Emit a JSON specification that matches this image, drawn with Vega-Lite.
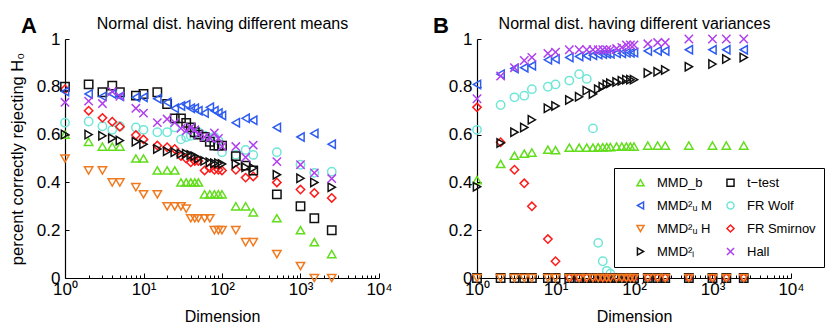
{
"$schema": "https://vega.github.io/schema/vega-lite/v6.json",
"padding": {"left": 9, "top": 15, "right": 5, "bottom": 5},
"background": "white",
"config": {
  "font": "Liberation Sans",
  "view": {"stroke": null},
  "axis": {"domainColor": "#000", "domainWidth": 1.2, "tickColor": "#000", "tickWidth": 1, "labelColor": "#000", "titleColor": "#000", "labelFontSize": 17, "titleFontSize": 16, "titleFontWeight": "normal", "grid": false, "labelFont": "Liberation Sans", "titleFont": "Liberation Sans"}
},
"datasets": {
"A": [
{"m":"FR Wolf","d":1,"p":0.65},{"m":"FR Wolf","d":2,"p":0.655},{"m":"FR Wolf","d":3,"p":0.635},{"m":"FR Wolf","d":4,"p":0.62},{"m":"FR Wolf","d":5,"p":0.635},{"m":"FR Wolf","d":8,"p":0.63},{"m":"FR Wolf","d":10,"p":0.62},{"m":"FR Wolf","d":15,"p":0.61},{"m":"FR Wolf","d":20,"p":0.61},{"m":"FR Wolf","d":25,"p":0.63},{"m":"FR Wolf","d":30,"p":0.58},{"m":"FR Wolf","d":35,"p":0.59},{"m":"FR Wolf","d":40,"p":0.595},{"m":"FR Wolf","d":45,"p":0.605},{"m":"FR Wolf","d":50,"p":0.61},{"m":"FR Wolf","d":60,"p":0.595},{"m":"FR Wolf","d":70,"p":0.586},{"m":"FR Wolf","d":80,"p":0.59},{"m":"FR Wolf","d":90,"p":0.575},{"m":"FR Wolf","d":100,"p":0.526},{"m":"FR Wolf","d":150,"p":0.516},{"m":"FR Wolf","d":200,"p":0.536},{"m":"FR Wolf","d":250,"p":0.515},{"m":"FR Wolf","d":500,"p":0.526},{"m":"FR Wolf","d":1000,"p":0.474},{"m":"FR Wolf","d":1500,"p":0.44},{"m":"FR Wolf","d":2500,"p":0.445},
{"m":"FR Smirnov","d":1,"p":0.79},{"m":"FR Smirnov","d":2,"p":0.7},{"m":"FR Smirnov","d":3,"p":0.67},{"m":"FR Smirnov","d":4,"p":0.654},{"m":"FR Smirnov","d":5,"p":0.633},{"m":"FR Smirnov","d":8,"p":0.598},{"m":"FR Smirnov","d":10,"p":0.58},{"m":"FR Smirnov","d":15,"p":0.554},{"m":"FR Smirnov","d":20,"p":0.547},{"m":"FR Smirnov","d":25,"p":0.54},{"m":"FR Smirnov","d":30,"p":0.51},{"m":"FR Smirnov","d":35,"p":0.5},{"m":"FR Smirnov","d":40,"p":0.484},{"m":"FR Smirnov","d":45,"p":0.49},{"m":"FR Smirnov","d":50,"p":0.49},{"m":"FR Smirnov","d":60,"p":0.45},{"m":"FR Smirnov","d":70,"p":0.46},{"m":"FR Smirnov","d":80,"p":0.453},{"m":"FR Smirnov","d":90,"p":0.453},{"m":"FR Smirnov","d":100,"p":0.45},{"m":"FR Smirnov","d":150,"p":0.453},{"m":"FR Smirnov","d":200,"p":0.42},{"m":"FR Smirnov","d":250,"p":0.425},{"m":"FR Smirnov","d":500,"p":0.4},{"m":"FR Smirnov","d":1000,"p":0.37},{"m":"FR Smirnov","d":1500,"p":0.356},{"m":"FR Smirnov","d":2500,"p":0.335},
{"m":"t−test","d":1,"p":0.8},{"m":"t−test","d":2,"p":0.81},{"m":"t−test","d":3,"p":0.777},{"m":"t−test","d":4,"p":0.805},{"m":"t−test","d":5,"p":0.777},{"m":"t−test","d":8,"p":0.763},{"m":"t−test","d":10,"p":0.77},{"m":"t−test","d":15,"p":0.777},{"m":"t−test","d":20,"p":0.728},{"m":"t−test","d":25,"p":0.668},{"m":"t−test","d":30,"p":0.668},{"m":"t−test","d":35,"p":0.649},{"m":"t−test","d":40,"p":0.63},{"m":"t−test","d":45,"p":0.61},{"m":"t−test","d":50,"p":0.6},{"m":"t−test","d":60,"p":0.59},{"m":"t−test","d":70,"p":0.57},{"m":"t−test","d":80,"p":0.554},{"m":"t−test","d":90,"p":0.554},{"m":"t−test","d":100,"p":0.554},{"m":"t−test","d":150,"p":0.51},{"m":"t−test","d":200,"p":0.47},{"m":"t−test","d":250,"p":0.45},{"m":"t−test","d":500,"p":0.35},{"m":"t−test","d":1000,"p":0.3},{"m":"t−test","d":1500,"p":0.25},{"m":"t−test","d":2500,"p":0.2},
{"m":"MMD_b","d":1,"p":0.6},{"m":"MMD_b","d":2,"p":0.57},{"m":"MMD_b","d":3,"p":0.55},{"m":"MMD_b","d":4,"p":0.55},{"m":"MMD_b","d":5,"p":0.55},{"m":"MMD_b","d":8,"p":0.5},{"m":"MMD_b","d":10,"p":0.5},{"m":"MMD_b","d":15,"p":0.45},{"m":"MMD_b","d":20,"p":0.45},{"m":"MMD_b","d":25,"p":0.45},{"m":"MMD_b","d":30,"p":0.4},{"m":"MMD_b","d":35,"p":0.4},{"m":"MMD_b","d":40,"p":0.4},{"m":"MMD_b","d":45,"p":0.4},{"m":"MMD_b","d":50,"p":0.4},{"m":"MMD_b","d":60,"p":0.35},{"m":"MMD_b","d":70,"p":0.35},{"m":"MMD_b","d":80,"p":0.35},{"m":"MMD_b","d":90,"p":0.35},{"m":"MMD_b","d":100,"p":0.35},{"m":"MMD_b","d":150,"p":0.3},{"m":"MMD_b","d":200,"p":0.3},{"m":"MMD_b","d":250,"p":0.275},{"m":"MMD_b","d":500,"p":0.25},{"m":"MMD_b","d":1000,"p":0.2},{"m":"MMD_b","d":1500,"p":0.15},{"m":"MMD_b","d":2500,"p":0.1},
{"m":"MMD²ᵤ M","d":1,"p":0.78},{"m":"MMD²ᵤ M","d":2,"p":0.77},{"m":"MMD²ᵤ M","d":3,"p":0.76},{"m":"MMD²ᵤ M","d":4,"p":0.77},{"m":"MMD²ᵤ M","d":5,"p":0.76},{"m":"MMD²ᵤ M","d":8,"p":0.756},{"m":"MMD²ᵤ M","d":10,"p":0.756},{"m":"MMD²ᵤ M","d":15,"p":0.75},{"m":"MMD²ᵤ M","d":20,"p":0.735},{"m":"MMD²ᵤ M","d":25,"p":0.71},{"m":"MMD²ᵤ M","d":30,"p":0.72},{"m":"MMD²ᵤ M","d":35,"p":0.725},{"m":"MMD²ᵤ M","d":40,"p":0.71},{"m":"MMD²ᵤ M","d":45,"p":0.71},{"m":"MMD²ᵤ M","d":50,"p":0.7},{"m":"MMD²ᵤ M","d":60,"p":0.69},{"m":"MMD²ᵤ M","d":70,"p":0.714},{"m":"MMD²ᵤ M","d":80,"p":0.7},{"m":"MMD²ᵤ M","d":90,"p":0.69},{"m":"MMD²ᵤ M","d":100,"p":0.68},{"m":"MMD²ᵤ M","d":150,"p":0.65},{"m":"MMD²ᵤ M","d":200,"p":0.668},{"m":"MMD²ᵤ M","d":250,"p":0.66},{"m":"MMD²ᵤ M","d":500,"p":0.63},{"m":"MMD²ᵤ M","d":1000,"p":0.59},{"m":"MMD²ᵤ M","d":1500,"p":0.605},{"m":"MMD²ᵤ M","d":2500,"p":0.56},
{"m":"MMD²ₗ","d":1,"p":0.6},{"m":"MMD²ₗ","d":2,"p":0.6},{"m":"MMD²ₗ","d":3,"p":0.595},{"m":"MMD²ₗ","d":4,"p":0.585},{"m":"MMD²ₗ","d":5,"p":0.575},{"m":"MMD²ₗ","d":8,"p":0.57},{"m":"MMD²ₗ","d":10,"p":0.56},{"m":"MMD²ₗ","d":15,"p":0.54},{"m":"MMD²ₗ","d":20,"p":0.53},{"m":"MMD²ₗ","d":25,"p":0.526},{"m":"MMD²ₗ","d":30,"p":0.52},{"m":"MMD²ₗ","d":35,"p":0.52},{"m":"MMD²ₗ","d":40,"p":0.515},{"m":"MMD²ₗ","d":45,"p":0.51},{"m":"MMD²ₗ","d":50,"p":0.5},{"m":"MMD²ₗ","d":60,"p":0.49},{"m":"MMD²ₗ","d":70,"p":0.484},{"m":"MMD²ₗ","d":80,"p":0.48},{"m":"MMD²ₗ","d":90,"p":0.48},{"m":"MMD²ₗ","d":100,"p":0.477},{"m":"MMD²ₗ","d":150,"p":0.477},{"m":"MMD²ₗ","d":200,"p":0.463},{"m":"MMD²ₗ","d":250,"p":0.46},{"m":"MMD²ₗ","d":500,"p":0.432},{"m":"MMD²ₗ","d":1000,"p":0.417},{"m":"MMD²ₗ","d":1500,"p":0.4},{"m":"MMD²ₗ","d":2500,"p":0.38},
{"m":"Hall","d":1,"p":0.735},{"m":"Hall","d":2,"p":0.74},{"m":"Hall","d":3,"p":0.73},{"m":"Hall","d":4,"p":0.78},{"m":"Hall","d":5,"p":0.76},{"m":"Hall","d":8,"p":0.71},{"m":"Hall","d":10,"p":0.69},{"m":"Hall","d":15,"p":0.65},{"m":"Hall","d":20,"p":0.665},{"m":"Hall","d":25,"p":0.65},{"m":"Hall","d":30,"p":0.626},{"m":"Hall","d":35,"p":0.616},{"m":"Hall","d":40,"p":0.63},{"m":"Hall","d":45,"p":0.62},{"m":"Hall","d":50,"p":0.6},{"m":"Hall","d":60,"p":0.59},{"m":"Hall","d":70,"p":0.586},{"m":"Hall","d":80,"p":0.607},{"m":"Hall","d":90,"p":0.584},{"m":"Hall","d":100,"p":0.55},{"m":"Hall","d":150,"p":0.55},{"m":"Hall","d":200,"p":0.505},{"m":"Hall","d":250,"p":0.556},{"m":"Hall","d":500,"p":0.487},{"m":"Hall","d":1000,"p":0.474},{"m":"Hall","d":1500,"p":0.44},{"m":"Hall","d":2500,"p":0.416},
{"m":"MMD²ᵤ H","d":1,"p":0.5},{"m":"MMD²ᵤ H","d":2,"p":0.45},{"m":"MMD²ᵤ H","d":3,"p":0.45},{"m":"MMD²ᵤ H","d":4,"p":0.4},{"m":"MMD²ᵤ H","d":5,"p":0.4},{"m":"MMD²ᵤ H","d":8,"p":0.38},{"m":"MMD²ᵤ H","d":10,"p":0.35},{"m":"MMD²ᵤ H","d":15,"p":0.35},{"m":"MMD²ᵤ H","d":20,"p":0.3},{"m":"MMD²ᵤ H","d":25,"p":0.3},{"m":"MMD²ᵤ H","d":30,"p":0.3},{"m":"MMD²ᵤ H","d":35,"p":0.29},{"m":"MMD²ᵤ H","d":40,"p":0.25},{"m":"MMD²ᵤ H","d":45,"p":0.25},{"m":"MMD²ᵤ H","d":50,"p":0.25},{"m":"MMD²ᵤ H","d":60,"p":0.25},{"m":"MMD²ᵤ H","d":70,"p":0.25},{"m":"MMD²ᵤ H","d":80,"p":0.2},{"m":"MMD²ᵤ H","d":90,"p":0.2},{"m":"MMD²ᵤ H","d":100,"p":0.2},{"m":"MMD²ᵤ H","d":150,"p":0.2},{"m":"MMD²ᵤ H","d":200,"p":0.15},{"m":"MMD²ᵤ H","d":250,"p":0.15},{"m":"MMD²ᵤ H","d":500,"p":0.1},{"m":"MMD²ᵤ H","d":1000,"p":0.05},{"m":"MMD²ᵤ H","d":1500,"p":0},{"m":"MMD²ᵤ H","d":2500,"p":0}
],
"B": [
{"m":"FR Wolf","d":1,"p":0.62},{"m":"FR Wolf","d":2,"p":0.724},{"m":"FR Wolf","d":3,"p":0.756},{"m":"FR Wolf","d":4,"p":0.763},{"m":"FR Wolf","d":5,"p":0.79},{"m":"FR Wolf","d":8,"p":0.8},{"m":"FR Wolf","d":10,"p":0.81},{"m":"FR Wolf","d":15,"p":0.826},{"m":"FR Wolf","d":20,"p":0.853},{"m":"FR Wolf","d":25,"p":0.833},{"m":"FR Wolf","d":30,"p":0.626},{"m":"FR Wolf","d":35,"p":0.147},{"m":"FR Wolf","d":40,"p":0.07},{"m":"FR Wolf","d":45,"p":0.03},{"m":"FR Wolf","d":50,"p":0.018},{"m":"FR Wolf","d":60,"p":0},{"m":"FR Wolf","d":70,"p":0},{"m":"FR Wolf","d":80,"p":0},{"m":"FR Wolf","d":90,"p":0},{"m":"FR Wolf","d":100,"p":0},{"m":"FR Wolf","d":150,"p":0},{"m":"FR Wolf","d":200,"p":0},{"m":"FR Wolf","d":250,"p":0},{"m":"FR Wolf","d":500,"p":0},{"m":"FR Wolf","d":1000,"p":0},{"m":"FR Wolf","d":1500,"p":0},{"m":"FR Wolf","d":2500,"p":0},
{"m":"FR Smirnov","d":1,"p":0.714},{"m":"FR Smirnov","d":2,"p":0.568},{"m":"FR Smirnov","d":3,"p":0.453},{"m":"FR Smirnov","d":4,"p":0.396},{"m":"FR Smirnov","d":5,"p":0.3},{"m":"FR Smirnov","d":8,"p":0.163},{"m":"FR Smirnov","d":10,"p":0.07},{"m":"FR Smirnov","d":15,"p":0},{"m":"FR Smirnov","d":20,"p":0},{"m":"FR Smirnov","d":25,"p":0},{"m":"FR Smirnov","d":30,"p":0},{"m":"FR Smirnov","d":35,"p":0},{"m":"FR Smirnov","d":40,"p":0},{"m":"FR Smirnov","d":45,"p":0},{"m":"FR Smirnov","d":50,"p":0},{"m":"FR Smirnov","d":60,"p":0},{"m":"FR Smirnov","d":70,"p":0},{"m":"FR Smirnov","d":80,"p":0},{"m":"FR Smirnov","d":90,"p":0},{"m":"FR Smirnov","d":100,"p":0},{"m":"FR Smirnov","d":150,"p":0},{"m":"FR Smirnov","d":200,"p":0},{"m":"FR Smirnov","d":250,"p":0},{"m":"FR Smirnov","d":500,"p":0},{"m":"FR Smirnov","d":1000,"p":0},{"m":"FR Smirnov","d":1500,"p":0},{"m":"FR Smirnov","d":2500,"p":0},
{"m":"t−test","d":1,"p":0},{"m":"t−test","d":2,"p":0},{"m":"t−test","d":3,"p":0},{"m":"t−test","d":4,"p":0},{"m":"t−test","d":5,"p":0},{"m":"t−test","d":8,"p":0},{"m":"t−test","d":10,"p":0},{"m":"t−test","d":15,"p":0},{"m":"t−test","d":20,"p":0},{"m":"t−test","d":25,"p":0},{"m":"t−test","d":30,"p":0},{"m":"t−test","d":35,"p":0},{"m":"t−test","d":40,"p":0},{"m":"t−test","d":45,"p":0},{"m":"t−test","d":50,"p":0},{"m":"t−test","d":60,"p":0},{"m":"t−test","d":70,"p":0},{"m":"t−test","d":80,"p":0},{"m":"t−test","d":90,"p":0},{"m":"t−test","d":100,"p":0},{"m":"t−test","d":150,"p":0},{"m":"t−test","d":200,"p":0},{"m":"t−test","d":250,"p":0},{"m":"t−test","d":500,"p":0},{"m":"t−test","d":1000,"p":0},{"m":"t−test","d":1500,"p":0},{"m":"t−test","d":2500,"p":0},
{"m":"MMD_b","d":1,"p":0.41},{"m":"MMD_b","d":2,"p":0.477},{"m":"MMD_b","d":3,"p":0.512},{"m":"MMD_b","d":4,"p":0.52},{"m":"MMD_b","d":5,"p":0.525},{"m":"MMD_b","d":8,"p":0.537},{"m":"MMD_b","d":10,"p":0.535},{"m":"MMD_b","d":15,"p":0.545},{"m":"MMD_b","d":20,"p":0.545},{"m":"MMD_b","d":25,"p":0.545},{"m":"MMD_b","d":30,"p":0.545},{"m":"MMD_b","d":35,"p":0.547},{"m":"MMD_b","d":40,"p":0.547},{"m":"MMD_b","d":45,"p":0.548},{"m":"MMD_b","d":50,"p":0.548},{"m":"MMD_b","d":60,"p":0.55},{"m":"MMD_b","d":70,"p":0.55},{"m":"MMD_b","d":80,"p":0.55},{"m":"MMD_b","d":90,"p":0.55},{"m":"MMD_b","d":100,"p":0.55},{"m":"MMD_b","d":150,"p":0.554},{"m":"MMD_b","d":200,"p":0.554},{"m":"MMD_b","d":250,"p":0.554},{"m":"MMD_b","d":500,"p":0.554},{"m":"MMD_b","d":1000,"p":0.554},{"m":"MMD_b","d":1500,"p":0.554},{"m":"MMD_b","d":2500,"p":0.554},
{"m":"MMD²ᵤ M","d":1,"p":0.81},{"m":"MMD²ᵤ M","d":2,"p":0.853},{"m":"MMD²ᵤ M","d":3,"p":0.877},{"m":"MMD²ᵤ M","d":4,"p":0.88},{"m":"MMD²ᵤ M","d":5,"p":0.888},{"m":"MMD²ᵤ M","d":8,"p":0.913},{"m":"MMD²ᵤ M","d":10,"p":0.916},{"m":"MMD²ᵤ M","d":15,"p":0.923},{"m":"MMD²ᵤ M","d":20,"p":0.927},{"m":"MMD²ᵤ M","d":25,"p":0.93},{"m":"MMD²ᵤ M","d":30,"p":0.932},{"m":"MMD²ᵤ M","d":35,"p":0.935},{"m":"MMD²ᵤ M","d":40,"p":0.937},{"m":"MMD²ᵤ M","d":45,"p":0.938},{"m":"MMD²ᵤ M","d":50,"p":0.938},{"m":"MMD²ᵤ M","d":60,"p":0.94},{"m":"MMD²ᵤ M","d":70,"p":0.94},{"m":"MMD²ᵤ M","d":80,"p":0.942},{"m":"MMD²ᵤ M","d":90,"p":0.942},{"m":"MMD²ᵤ M","d":100,"p":0.943},{"m":"MMD²ᵤ M","d":150,"p":0.95},{"m":"MMD²ᵤ M","d":200,"p":0.95},{"m":"MMD²ᵤ M","d":250,"p":0.95},{"m":"MMD²ᵤ M","d":500,"p":0.955},{"m":"MMD²ᵤ M","d":1000,"p":0.955},{"m":"MMD²ᵤ M","d":1500,"p":0.955},{"m":"MMD²ᵤ M","d":2500,"p":0.955},
{"m":"MMD²ₗ","d":1,"p":0.382},{"m":"MMD²ₗ","d":2,"p":0.565},{"m":"MMD²ₗ","d":3,"p":0.61},{"m":"MMD²ₗ","d":4,"p":0.63},{"m":"MMD²ₗ","d":5,"p":0.662},{"m":"MMD²ₗ","d":8,"p":0.71},{"m":"MMD²ₗ","d":10,"p":0.72},{"m":"MMD²ₗ","d":15,"p":0.745},{"m":"MMD²ₗ","d":20,"p":0.758},{"m":"MMD²ₗ","d":25,"p":0.784},{"m":"MMD²ₗ","d":30,"p":0.77},{"m":"MMD²ₗ","d":35,"p":0.79},{"m":"MMD²ₗ","d":40,"p":0.8},{"m":"MMD²ₗ","d":45,"p":0.81},{"m":"MMD²ₗ","d":50,"p":0.815},{"m":"MMD²ₗ","d":60,"p":0.82},{"m":"MMD²ₗ","d":70,"p":0.825},{"m":"MMD²ₗ","d":80,"p":0.83},{"m":"MMD²ₗ","d":90,"p":0.83},{"m":"MMD²ₗ","d":100,"p":0.83},{"m":"MMD²ₗ","d":150,"p":0.858},{"m":"MMD²ₗ","d":200,"p":0.863},{"m":"MMD²ₗ","d":250,"p":0.87},{"m":"MMD²ₗ","d":500,"p":0.884},{"m":"MMD²ₗ","d":1000,"p":0.895},{"m":"MMD²ₗ","d":1500,"p":0.916},{"m":"MMD²ₗ","d":2500,"p":0.923},
{"m":"Hall","d":1,"p":0.75},{"m":"Hall","d":2,"p":0.845},{"m":"Hall","d":3,"p":0.88},{"m":"Hall","d":4,"p":0.91},{"m":"Hall","d":5,"p":0.923},{"m":"Hall","d":8,"p":0.94},{"m":"Hall","d":10,"p":0.945},{"m":"Hall","d":15,"p":0.955},{"m":"Hall","d":20,"p":0.955},{"m":"Hall","d":25,"p":0.955},{"m":"Hall","d":30,"p":0.955},{"m":"Hall","d":35,"p":0.955},{"m":"Hall","d":40,"p":0.955},{"m":"Hall","d":45,"p":0.955},{"m":"Hall","d":50,"p":0.955},{"m":"Hall","d":60,"p":0.96},{"m":"Hall","d":70,"p":0.965},{"m":"Hall","d":80,"p":0.975},{"m":"Hall","d":90,"p":0.975},{"m":"Hall","d":100,"p":0.975},{"m":"Hall","d":150,"p":0.98},{"m":"Hall","d":200,"p":0.985},{"m":"Hall","d":250,"p":0.985},{"m":"Hall","d":500,"p":1},{"m":"Hall","d":1000,"p":1},{"m":"Hall","d":1500,"p":1},{"m":"Hall","d":2500,"p":1},
{"m":"MMD²ᵤ H","d":1,"p":0},{"m":"MMD²ᵤ H","d":2,"p":0},{"m":"MMD²ᵤ H","d":3,"p":0},{"m":"MMD²ᵤ H","d":4,"p":0},{"m":"MMD²ᵤ H","d":5,"p":0},{"m":"MMD²ᵤ H","d":8,"p":0},{"m":"MMD²ᵤ H","d":10,"p":0},{"m":"MMD²ᵤ H","d":15,"p":0},{"m":"MMD²ᵤ H","d":20,"p":0},{"m":"MMD²ᵤ H","d":25,"p":0},{"m":"MMD²ᵤ H","d":30,"p":0},{"m":"MMD²ᵤ H","d":35,"p":0},{"m":"MMD²ᵤ H","d":40,"p":0},{"m":"MMD²ᵤ H","d":45,"p":0},{"m":"MMD²ᵤ H","d":50,"p":0},{"m":"MMD²ᵤ H","d":60,"p":0},{"m":"MMD²ᵤ H","d":70,"p":0},{"m":"MMD²ᵤ H","d":80,"p":0},{"m":"MMD²ᵤ H","d":90,"p":0},{"m":"MMD²ᵤ H","d":100,"p":0},{"m":"MMD²ᵤ H","d":150,"p":0},{"m":"MMD²ᵤ H","d":200,"p":0},{"m":"MMD²ᵤ H","d":250,"p":0},{"m":"MMD²ᵤ H","d":500,"p":0},{"m":"MMD²ᵤ H","d":1000,"p":0},{"m":"MMD²ᵤ H","d":1500,"p":0},{"m":"MMD²ᵤ H","d":2500,"p":0}
]
},
"spacing": 98,
"bounds": "flush",
"resolve": {"legend": {"color": "independent", "shape": "independent"}},
"hconcat": [
{
  "width": 314, "height": 239,
  "data": {"name": "A"},
  "title": {"text": "A", "anchor": "start", "frame": "group", "fontSize": 22, "fontWeight": "bold", "color": "#000", "dx": -44, "dy": 23, "offset": 0},
  "layer": [
    {
      "mark": {"type": "point", "filled": false, "strokeWidth": 1.5, "opacity": 1},
      "encoding": {
        "x": {"field": "d", "type": "quantitative", "scale": {"type": "log", "domain": [1, 10000]},
          "axis": {"title": "Dimension", "values": [1,2,3,4,5,6,7,8,9,10,20,30,40,50,60,70,80,90,100,200,300,400,500,600,700,800,900,1000,2000,3000,4000,5000,6000,7000,8000,9000,10000],
            "labelExpr": "indexof([1,10,100,1000,10000], datum.value) >= 0 ? '10' + ['⁰','¹','²','³','⁴'][indexof([1,10,100,1000,10000], datum.value)] : ''",
            "labelOverlap": false, "labelFlush": false, "labelBound": false,
            "tickSize": {"condition": {"test": "indexof([1,10,100,1000,10000], datum.value) >= 0", "value": -5}, "value": -3},
            "labelPadding": 8, "titlePadding": 9}},
        "y": {"field": "p", "type": "quantitative", "scale": {"domain": [0, 1]},
          "axis": {"title": "percent correctly rejecting H₀", "titleFontSize": 16.5, "values": [0,0.2,0.4,0.6,0.8,1], "format": "~g", "tickSize": -4, "labelPadding": 9, "titlePadding": 11}},
        "color": {"field": "m", "type": "nominal", "scale": {"domain": ["MMD_b","MMD²ᵤ M","MMD²ᵤ H","MMD²ₗ","t−test","FR Wolf","FR Smirnov","Hall"], "range": ["#62dd1c","#2f5cf0","#f07a20","#111111","#111111","#70e6d8","#ff1a1a","#b040ee"]}, "legend": null},
        "shape": {"field": "m", "type": "nominal", "scale": {"domain": ["MMD_b","MMD²ᵤ M","MMD²ᵤ H","MMD²ₗ","t−test","FR Wolf","FR Smirnov","Hall"], "range": ["triangle-up","triangle-left","triangle-down","triangle-right","square","circle","diamond","M-1,-1L1,1M-1,1L1,-1"]}, "legend": null},
        "size": {"field": "m", "type": "nominal", "scale": {"domain": ["MMD_b","MMD²ᵤ M","MMD²ᵤ H","MMD²ₗ","t−test","FR Wolf","FR Smirnov","Hall"], "range": [70,70,70,70,38,50,50,25]}, "legend": null}
      }
    },
    {
      "mark": {"type": "point", "opacity": 0},
      "encoding": {
        "x": {"field": "d", "type": "quantitative", "scale": {"type": "log", "domain": [1, 10000]},
          "axis": {"orient": "top", "title": "Normal dist. having different means", "titleFontSize": 16, "labels": false, "ticks": false, "domain": false, "titlePadding": 8}}
      }
    }
  ],
  "resolve": {"axis": {"x": "independent"}}
},
{
  "width": 314, "height": 239,
  "data": {"name": "B"},
  "title": {"text": "B", "anchor": "start", "frame": "group", "fontSize": 22, "fontWeight": "bold", "color": "#000", "dx": -44, "dy": 23, "offset": 0},
  "layer": [
    {
      "mark": {"type": "point", "filled": false, "strokeWidth": 1.5, "opacity": 1},
      "encoding": {
        "x": {"field": "d", "type": "quantitative", "scale": {"type": "log", "domain": [1, 10000]},
          "axis": {"title": "Dimension", "values": [1,2,3,4,5,6,7,8,9,10,20,30,40,50,60,70,80,90,100,200,300,400,500,600,700,800,900,1000,2000,3000,4000,5000,6000,7000,8000,9000,10000],
            "labelExpr": "indexof([1,10,100,1000,10000], datum.value) >= 0 ? '10' + ['⁰','¹','²','³','⁴'][indexof([1,10,100,1000,10000], datum.value)] : ''",
            "labelOverlap": false, "labelFlush": false, "labelBound": false,
            "tickSize": {"condition": {"test": "indexof([1,10,100,1000,10000], datum.value) >= 0", "value": -5}, "value": -3},
            "labelPadding": 8, "titlePadding": 9}},
        "y": {"field": "p", "type": "quantitative", "scale": {"domain": [0, 1]},
          "axis": {"title": null, "values": [0,0.2,0.4,0.6,0.8,1], "format": "~g", "tickSize": -4, "labelPadding": 9}},
        "color": {"field": "m", "type": "nominal", "scale": {"domain": ["MMD_b","MMD²ᵤ M","MMD²ᵤ H","MMD²ₗ","t−test","FR Wolf","FR Smirnov","Hall"], "range": ["#62dd1c","#2f5cf0","#f07a20","#111111","#111111","#70e6d8","#ff1a1a","#b040ee"]},
          "legend": {"title": null, "orient": "none", "legendX": 137, "legendY": 129, "columns": 2, "columnPadding": 0, "rowPadding": 8, "padding": 8, "strokeColor": "#000", "fillColor": "#fff", "labelFontSize": 13, "labelFont": "Liberation Sans", "labelColor": "#000", "symbolSize": 50, "symbolStrokeWidth": 1.5, "labelOffset": 10, "symbolOffset": 12, "labelLimit": 200}},
        "shape": {"field": "m", "type": "nominal", "scale": {"domain": ["MMD_b","MMD²ᵤ M","MMD²ᵤ H","MMD²ₗ","t−test","FR Wolf","FR Smirnov","Hall"], "range": ["triangle-up","triangle-left","triangle-down","triangle-right","square","circle","diamond","M-1,-1L1,1M-1,1L1,-1"]},
          "legend": {"title": null, "orient": "none", "legendX": 137, "legendY": 129, "columns": 2, "columnPadding": 0, "rowPadding": 8, "padding": 8, "strokeColor": "#000", "fillColor": "#fff", "labelFontSize": 13, "labelFont": "Liberation Sans", "labelColor": "#000", "symbolSize": 50, "symbolStrokeWidth": 1.5, "labelOffset": 10, "symbolOffset": 12, "labelLimit": 200}},
        "size": {"field": "m", "type": "nominal", "scale": {"domain": ["MMD_b","MMD²ᵤ M","MMD²ᵤ H","MMD²ₗ","t−test","FR Wolf","FR Smirnov","Hall"], "range": [70,70,70,70,38,50,50,25]}, "legend": null}
      }
    },
    {
      "mark": {"type": "point", "opacity": 0},
      "encoding": {
        "x": {"field": "d", "type": "quantitative", "scale": {"type": "log", "domain": [1, 10000]},
          "axis": {"orient": "top", "title": "Normal dist. having different variances", "titleFontSize": 16, "labels": false, "ticks": false, "domain": false, "titlePadding": 8}}
      }
    }
  ],
  "resolve": {"axis": {"x": "independent"}}
}
]
}
